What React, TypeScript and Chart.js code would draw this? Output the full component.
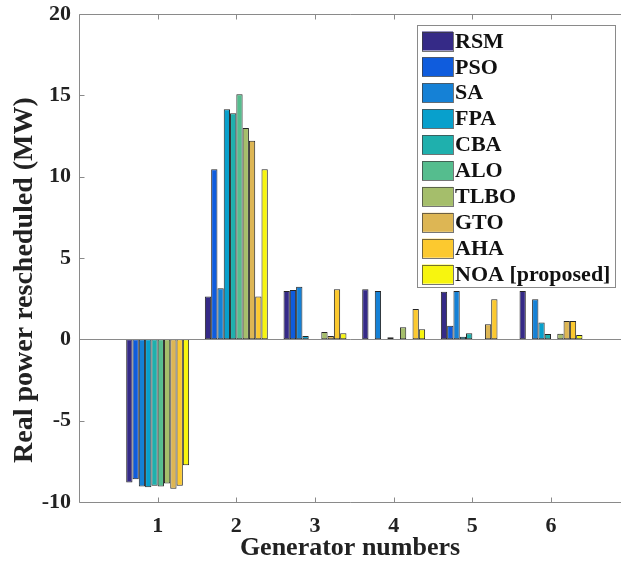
import React, { useEffect, useRef } from "react";
import { Chart, registerables } from "chart.js";

Chart.register(...registerables);

const generators = [1, 2, 3, 4, 5, 6];
const seriesNames = ["RSM", "PSO", "SA", "FPA", "CBA", "ALO", "TLBO", "GTO", "AHA", "NOA [proposed]"];
const seriesColors = ["#352a87", "#0f5cdd", "#1581d6", "#08a0cc", "#1fb0ad", "#55bd8e", "#a5be6b", "#ddb654", "#fcc92f", "#f7f50f"];

const RSM = [-8.8, 2.63, 2.97, 3.08, 2.93, 2.97];
const PSO = [-8.6, 10.45, 3.04, 0, 0.84, 0];
const SA = [-9.05, 3.14, 3.24, 2.97, 2.97, 2.46];
const FPA = [-9.1, 14.14, 0.21, 0, 0.16, 1.03];
const CBA = [-9.0, 13.9, 0, 0.13, 0.37, 0.33];
const ALO = [-9.05, 15.06, 0, 0, 0, 0];
const TLBO = [-8.87, 12.99, 0.45, 0.74, 0, 0.35];
const GTO = [-9.18, 12.21, 0.2, 0, 0.93, 1.13];
const AHA = [-9.0, 2.63, 3.08, 1.87, 2.46, 1.13];
const NOA = [-7.74, 10.45, 0.37, 0.62, 0, 0.27];

const seriesValues = [RSM, PSO, SA, FPA, CBA, ALO, TLBO, GTO, AHA, NOA];
const yTicks = [-10, -5, 0, 5, 10, 15, 20];
const yTitle = "Real power rescheduled (MW)";

const FONT = "'Liberation Serif', 'Times New Roman', serif";
const AXIS_COLOR = "#8a8a8a";

const axesPlugin = {
  id: "matlabAxes",
  afterDatasetsDraw(chart: any) {
    const { ctx, chartArea, scales } = chart;
    const { left, right, top, bottom } = chartArea;
    const xs = scales.x;
    const ys = scales.y;
    ctx.save();
    ctx.strokeStyle = AXIS_COLOR;
    ctx.lineWidth = 1;
    const L = Math.round(left) + 0.5;
    const T = Math.round(top) + 0.5;
    const B = Math.round(bottom) + 0.5;
    const Z = Math.round(ys.getPixelForValue(0)) + 0.5;
    ctx.beginPath();
    ctx.moveTo(L, Z);
    ctx.lineTo(right, Z);
    ctx.moveTo(L, T);
    ctx.lineTo(right, T);
    ctx.moveTo(L, T);
    ctx.lineTo(L, B);
    ctx.moveTo(L, B);
    ctx.lineTo(right, B);
    for (const g of generators) {
      const px = Math.round(xs.getPixelForValue(g)) + 0.5;
      ctx.moveTo(px, B);
      ctx.lineTo(px, B - 5);
      ctx.moveTo(px, T);
      ctx.lineTo(px, T + 5);
    }
    for (const v of yTicks) {
      const py = Math.round(ys.getPixelForValue(v)) + 0.5;
      ctx.moveTo(L, py);
      ctx.lineTo(L + 5, py);
    }
    ctx.stroke();

    // y-axis title
    ctx.translate(25, (top + bottom) / 2 + 22);
    ctx.rotate(-Math.PI / 2);
    ctx.font = "bold 28px " + FONT;
    ctx.fillStyle = "#222";
    ctx.textAlign = "center";
    ctx.textBaseline = "middle";
    ctx.fillText(yTitle, 0, 0);
    ctx.restore();
  },
};

const legendPlugin = {
  id: "boxLegend",
  afterDraw(chart: any) {
    const { ctx, chartArea } = chart;
    const x0 = chartArea.left + 338;
    const y0 = chartArea.top + 11;
    const w = 198;
    const rowH = 25.9;
    const h = 262;
    ctx.save();
    ctx.fillStyle = "#ffffff";
    ctx.fillRect(x0, y0, w, h);
    ctx.strokeStyle = AXIS_COLOR;
    ctx.lineWidth = 1;
    ctx.strokeRect(Math.round(x0) + 0.5, Math.round(y0) + 0.5, w, h);
    ctx.font = "bold 22px " + FONT;
    ctx.textBaseline = "middle";
    ctx.textAlign = "left";
    chart.data.datasets.forEach((ds: any, i: number) => {
      const cy = y0 + 16 + i * rowH;
      ctx.fillStyle = ds.backgroundColor;
      ctx.fillRect(x0 + 5, cy - 9.5, 31, 19);
      ctx.strokeStyle = "rgba(60,60,60,0.7)";
      ctx.strokeRect(Math.round(x0 + 5) + 0.5, Math.round(cy - 9.5) + 0.5, 31, 19);
      ctx.fillStyle = "#111";
      ctx.fillText(ds.label, x0 + 38, cy + 1);
    });
    ctx.restore();
  },
};

export default function App() {
  const canvasRef = useRef<HTMLCanvasElement | null>(null);

  useEffect(() => {
    if (!canvasRef.current) return;
    const datasets = seriesNames.map((name, i) => ({
      label: name,
      data: generators.map((g, j) => ({ x: g, y: seriesValues[i][j] })),
      backgroundColor: seriesColors[i],
      borderColor: "#262626",
      borderWidth: 1,
      borderSkipped: false,
      categoryPercentage: 0.8,
      barPercentage: 1.0,
    }));

    const chart = new Chart(canvasRef.current, {
      type: "bar",
      data: { datasets },
      options: {
        responsive: false,
        animation: false,
        devicePixelRatio: 1,
        layout: { padding: { top: 14, left: 0, right: 0, bottom: 0 } },
        plugins: {
          legend: { display: false },
          tooltip: { enabled: false },
        },
        scales: {
          x: {
            type: "linear",
            min: 0,
            max: 6.89,
            offset: false,
            grid: { display: false },
            border: { display: false },
            afterBuildTicks: (scale: any) => {
              scale.ticks = generators.map((v) => ({ value: v }));
            },
            afterFit: (scale: any) => {
              scale.height = 67;
              scale.paddingLeft = 0;
              scale.paddingRight = 0;
            },
            ticks: {
              color: "#222",
              padding: 3,
              maxRotation: 0,
              autoSkip: false,
              font: { family: FONT, size: 22, weight: "bold" },
              callback: (v: any) => String(v),
            },
            title: {
              display: true,
              text: "Generator numbers",
              color: "#222",
              font: { family: FONT, size: 26, weight: "bold" },
              padding: { top: 0, bottom: 5 },
            },
          },
          y: {
            type: "linear",
            min: -10,
            max: 20,
            grid: { display: false },
            border: { display: false },
            afterBuildTicks: (scale: any) => {
              scale.ticks = yTicks.map((v) => ({ value: v }));
            },
            afterFit: (scale: any) => {
              scale.width = 79;
              scale.paddingTop = 0;
              scale.paddingBottom = 0;
            },
            ticks: {
              color: "#222",
              padding: 0,
              font: { family: FONT, size: 22, weight: "bold" },
              callback: (v: any) => String(v),
            },
            title: { display: false },
          },
        },
      } as any,
      plugins: [axesPlugin, legendPlugin],
    });
    return () => chart.destroy();
  }, []);

  return (
    <div style={{ position: "fixed", left: 0, top: 0, width: 621, height: 569, background: "#fff" }}>
      <canvas ref={canvasRef} width={621} height={569} style={{ display: "block" }} />
    </div>
  );
}
